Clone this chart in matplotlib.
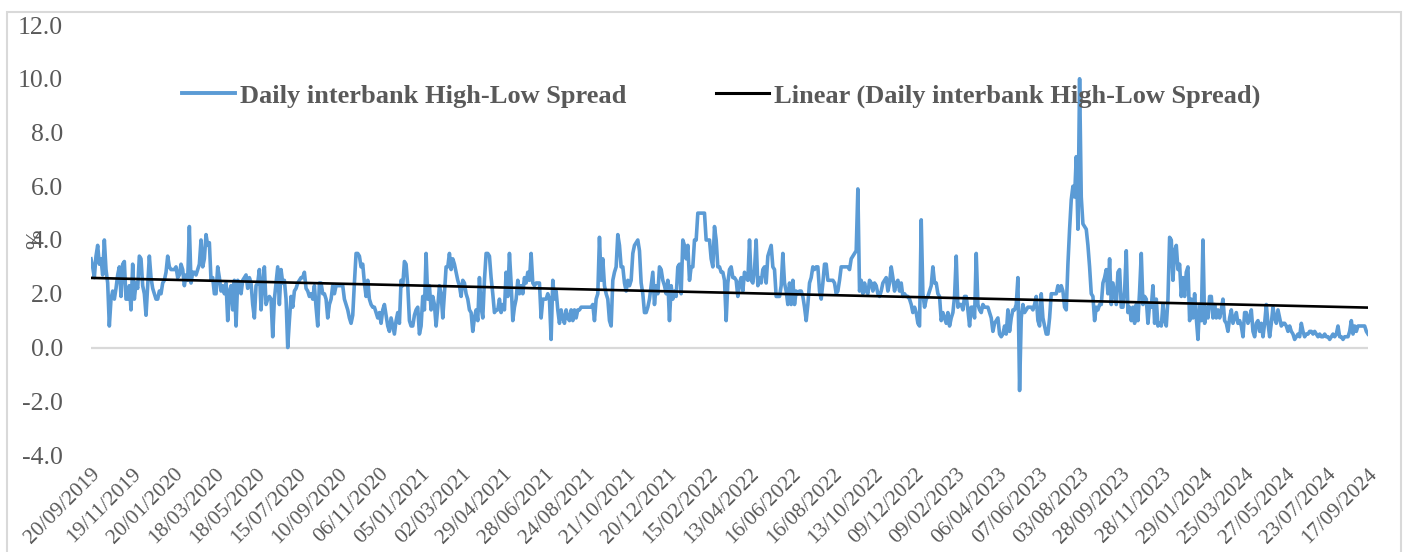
"""Daily interbank High-Low Spread chart"""

import matplotlib
matplotlib.use("Agg")
import matplotlib.pyplot as plt
from matplotlib.lines import Line2D
from matplotlib.patches import Rectangle
import numpy as np

plt.rcParams["font.family"] = ["Liberation Serif", "DejaVu Serif"]
plt.rcParams["axes.unicode_minus"] = False

# ── data (roughly every 1.7 px) ──────────────────────────────────
spread_2019_2020 = [
    3.3, 3.0, 2.6, 3.4, 3.8, 3.1, 3.3, 2.7, 4.0, 2.9,
    2.4, 0.8, 1.8, 2.1, 1.8, 2.2, 2.7, 3.0, 1.9, 3.1,
    3.2, 1.8, 1.8, 2.3, 1.4, 3.1, 1.8, 2.4, 2.2, 3.4,
    3.3, 2.3, 2.0, 1.2, 2.3, 3.4, 2.6, 2.2, 2.0, 1.8,
    1.8, 2.1, 2.0, 2.4, 2.5, 2.8, 3.4, 3.0, 2.9, 2.9,
    2.9, 3.0, 2.6, 2.7, 3.1, 2.9, 2.3, 2.7, 2.5, 4.5,
    2.4, 2.8, 2.8, 2.7, 2.9, 3.1, 4.0, 3.0, 3.3, 4.2,
    3.8, 3.9, 2.5, 2.6, 2.0, 2.0, 3.0, 2.6, 2.1, 2.3,
    2.0, 2.4, 1.0, 2.1, 2.3, 1.4, 2.5, 0.8, 2.5, 2.4,
    2.0, 2.5, 2.6, 2.7, 2.2, 2.6, 2.4, 1.6, 1.1, 2.3,
    2.4, 2.9, 1.4, 2.4, 3.0, 1.6, 1.8, 1.9, 1.8, 0.4,
    1.8, 2.4, 3.0, 1.6, 2.9, 2.4, 2.5, 1.8, 0.0, 1.0,
    1.9, 1.5, 2.1, 2.2, 2.4, 2.5, 2.6, 2.6, 2.8, 2.2,
    2.1, 1.9, 2.0, 1.8, 2.3, 1.5, 0.8, 2.4, 2.4, 2.0,
    2.0, 1.8, 1.1, 1.6, 1.8, 2.3, 2.0, 2.3, 2.3, 2.3,
    2.3, 2.3, 1.8, 1.6, 1.4, 1.1, 0.9, 1.2, 2.4, 3.5,
    3.5, 3.4, 3.0, 3.1, 2.4, 1.9, 2.5, 1.8, 1.6, 1.5,
    1.5, 1.3, 1.1, 1.3, 0.9, 1.4, 1.6, 1.2, 0.8, 0.6,
    1.1, 0.8, 0.5, 1.0, 1.3, 0.9, 2.5, 2.3, 3.2, 3.1,
    2.3, 1.0, 0.8, 0.8, 1.2,
]
spread_2021_2022 = [
    1.4, 1.5, 0.5, 0.8, 1.9, 1.4, 3.5, 1.8, 2.3, 1.4,
    1.9, 1.6, 0.8, 1.5, 2.3, 2.0, 1.1, 2.0, 3.0, 3.0,
    3.5, 2.9, 3.3, 3.1, 2.8, 2.5, 2.3, 1.9, 2.5, 2.4,
    2.0, 1.8, 1.4, 1.3, 0.6, 1.1, 1.4, 1.0, 2.6, 1.5,
    1.1, 2.5, 3.5, 3.5, 3.4, 2.6, 2.0, 1.3, 1.4, 1.4,
    1.8, 1.3, 1.6, 1.4, 2.8, 1.9, 3.5, 2.4, 1.0, 1.5,
    1.8, 2.5, 2.0, 2.3, 2.0, 2.6, 2.4, 2.8, 2.5, 3.5,
    2.4, 2.3, 2.4, 2.4, 2.4, 1.1, 1.8, 1.8, 1.8, 2.0,
    1.8, 0.3, 2.5, 1.8, 2.1, 1.4, 0.9, 1.4, 1.1, 0.9,
    1.4, 1.1, 1.0, 1.4, 1.0, 1.4, 1.1, 1.4, 1.4, 1.5,
    1.5, 1.5, 1.5, 1.5, 1.5, 1.5, 1.6, 1.0, 1.8, 2.0,
    4.1, 2.5, 3.3, 2.3, 2.0, 1.8, 1.0, 0.8, 2.5, 2.8,
    3.0, 4.2, 3.8, 3.0, 3.0, 2.4, 2.1, 2.5, 2.3, 2.5,
    3.5, 3.8, 3.9, 4.0, 3.6, 2.4, 2.0, 1.3, 1.3, 1.5,
    1.8, 2.3, 2.8, 1.6, 2.3, 2.0, 3.0, 2.9, 2.5, 2.3,
    2.0, 2.5, 1.0, 2.3, 1.8, 2.1, 1.9, 3.0, 3.1, 2.0,
    4.0, 3.8, 3.3, 3.8, 2.5, 3.0, 3.0, 4.0, 4.0, 5.0,
    5.0, 5.0, 5.0, 5.0, 4.0, 4.0, 4.0, 3.3, 3.0, 4.5,
    4.0, 3.0, 3.0, 2.8, 2.8, 2.5, 1.0, 2.4, 2.9, 3.0,
    2.6,
]
spread_2022_2023 = [
    2.6, 2.5, 1.9, 2.4, 2.6, 2.1, 2.8, 2.6, 2.5, 4.0,
    2.5, 2.4, 2.9, 4.0, 2.3, 2.6, 2.4, 2.9, 3.0, 2.4,
    3.4, 3.6, 3.8, 3.0, 2.9, 1.9, 1.9, 1.9, 2.3, 3.5,
    2.4, 2.1, 1.6, 2.4, 1.6, 2.5, 1.6, 2.1, 2.0, 2.1,
    2.1, 1.9, 1.5, 1.0, 1.6, 2.4, 2.6, 3.0, 2.9, 3.0,
    3.0, 2.1, 1.8, 2.4, 3.1, 3.1, 2.5, 2.5, 2.5, 2.5,
    2.4, 2.0, 2.1, 2.5, 3.0, 3.0, 3.0, 3.0, 3.0, 2.9,
    3.3, 3.4, 3.5, 3.6, 5.9, 2.1, 2.5, 2.0, 2.4, 2.1,
    2.0, 2.5, 2.4, 2.1, 2.4, 2.3, 2.0, 1.9, 2.1, 2.4,
    2.5, 2.6, 2.1, 2.4, 3.0, 2.6, 2.1, 2.4, 2.5, 2.1,
    2.4, 1.9, 2.0, 1.9, 1.9, 1.8, 1.6, 1.3, 1.5, 1.3,
    0.9, 0.8, 4.75, 2.0, 1.5, 1.8, 1.9, 2.1, 2.3, 3.0,
    2.4, 2.4, 2.0, 1.9, 1.0, 1.3, 1.1, 0.9, 1.3, 0.8,
    1.1, 1.3, 1.9, 3.4, 1.5, 1.6, 1.6, 1.4, 1.9, 1.9,
    1.4, 0.8, 1.5, 1.5, 1.1, 3.5, 1.6, 1.4, 1.3, 1.6,
    1.5, 1.5, 1.5, 1.3, 1.1, 0.6, 0.9, 1.0, 1.1, 0.5,
    0.4, 0.5, 0.8, 0.5, 1.4, 0.6, 1.1, 1.4, 1.4, 1.6,
    2.6, -1.6, 1.1, 1.6, 1.3, 1.4, 1.5, 1.5, 1.5, 1.4,
    1.6, 1.9, 1.0, 0.8, 2.0, 1.1, 0.8, 0.5, 0.5, 1.1,
    2.0, 2.0, 2.0,
]
spread_2023_2024 = [
    2.0, 2.3, 2.1, 2.3, 2.1, 1.5, 1.4, 3.1, 4.4, 5.5,
    6.0, 5.6, 7.1, 4.4, 10.0, 5.6, 4.6, 4.5, 4.4, 3.8,
    3.0, 2.0, 1.9, 1.0, 1.5, 1.4, 1.6, 1.6, 2.4, 2.6,
    2.9, 2.0, 3.3, 1.6, 2.4, 2.0, 1.6, 2.8, 2.9, 1.5,
    1.5, 2.1, 3.6, 1.3, 1.5, 1.0, 1.5, 0.9, 1.6, 1.0,
    2.1, 3.5, 1.6, 1.9, 1.8, 0.9, 1.6, 1.5, 2.3, 0.9,
    1.8, 0.8, 0.9, 0.8, 1.6, 1.0, 0.8, 1.8, 4.1, 4.0,
    2.5, 3.6, 3.8, 2.9, 3.1, 1.9, 2.6, 1.9, 2.8, 3.0,
    1.0, 1.8, 1.1, 2.0, 1.1, 0.3, 1.6, 1.0, 4.0, 0.9,
    1.5, 1.1, 1.9, 1.9, 1.1, 1.6, 1.1, 1.4, 1.1, 1.4,
    1.8, 1.0, 0.9, 0.6, 1.1, 1.4, 0.9, 1.1, 1.3, 0.9,
    1.0, 0.8, 0.4, 1.3, 1.3, 0.9, 1.1, 1.4, 0.6, 0.4,
    0.9, 1.0, 0.6, 0.9, 0.4, 0.9, 1.6, 0.9, 0.4, 0.9,
    1.5, 1.1, 0.9, 1.4, 1.1, 0.8, 0.9, 0.9, 0.8, 0.6,
    0.8, 0.6, 0.5, 0.3, 0.4, 0.5, 0.4, 0.9, 0.6, 0.4,
    0.5, 0.5, 0.6, 0.6, 0.5, 0.6, 0.5, 0.4, 0.5, 0.4,
    0.4, 0.5, 0.4, 0.4, 0.3, 0.4, 0.5, 0.4, 0.5, 0.8,
    0.4, 0.4, 0.3, 0.4, 0.4, 0.4, 0.6, 1.0, 0.5, 0.8,
    0.6, 0.8, 0.8, 0.8, 0.8, 0.8, 0.6, 0.5,
]

date_labels = [
    "20/09/2019", "19/11/2019", "20/01/2020", "18/03/2020", "18/05/2020",
    "15/07/2020", "10/09/2020", "06/11/2020", "05/01/2021", "02/03/2021",
    "29/04/2021", "28/06/2021", "24/08/2021", "21/10/2021", "20/12/2021",
    "15/02/2022", "13/04/2022", "16/06/2022", "16/08/2022", "13/10/2022",
    "09/12/2022", "09/02/2023", "06/04/2023", "07/06/2023", "03/08/2023",
    "28/09/2023", "28/11/2023", "29/01/2024", "25/03/2024", "27/05/2024",
    "23/07/2024", "17/09/2024",
]

SERIES_NAME = "Daily interbank High-Low Spread"
BLUE = "#5B9BD5"
GREY_TXT = "#595959"
GREY_LINE = "#D9D9D9"

spread = np.array(spread_2019_2020 + spread_2021_2022
                  + spread_2022_2023 + spread_2023_2024)
x = np.arange(len(spread))

# linear trend like Excel's "Linear (...)"
slope, intercept = np.polyfit(x, spread, 1)
trend = slope * x + intercept

W, H = 1409, 552
fig = plt.figure(figsize=(W / 100, H / 100), dpi=100)
ax = fig.add_axes([91 / W, 1 - 455 / H, (1368 - 91) / W, (455 - 25) / H])

# chart area border
fig.patches.append(Rectangle((7 / W, -0.1), (1401 - 7) / W, 1.1 - 12 / H,
                             transform=fig.transFigure, fill=False,
                             edgecolor=GREY_LINE, linewidth=1.5))

ax.axhline(0, color=GREY_LINE, linewidth=1.6, zorder=1)
ax.plot(x, spread, color=BLUE, linewidth=2.6, zorder=2,
        solid_joinstyle="round")
ax.plot(x, trend, color="black", linewidth=1.9, zorder=3)

ax.set_xlim(0, len(spread) - 1)
ax.set_ylim(-4, 12)
ax.set_yticks(np.arange(-4, 12.1, 2))
ax.set_yticklabels([f"{v:.1f}" for v in np.arange(-4, 12.1, 2)])
ax.set_xticks(np.linspace(0, len(spread) - 1, len(date_labels)))
ax.set_xticklabels(date_labels, rotation=45, ha="right",
                   rotation_mode="anchor")
ax.tick_params(axis="y", length=0, pad=20, labelsize=18.5,
               labelcolor=GREY_TXT)
ax.tick_params(axis="x", length=0, pad=7, labelsize=15.5,
               labelcolor=GREY_TXT)
for s in ax.spines.values():
    s.set_visible(False)

fig.text(36 / W, 1 - 239 / H, "%", rotation=90, ha="center", va="center",
         fontsize=17, color=GREY_TXT)

handles = [Line2D([], [], color=BLUE, linewidth=2.8),
           Line2D([], [], color="black", linewidth=2.2)]
ax.legend(handles, [SERIES_NAME, f"Linear ({SERIES_NAME})"], ncol=2,
          loc="center left", bbox_to_anchor=((182 - 91) / 1277, (455 - 96) / 430),
          frameon=False, borderpad=0, borderaxespad=0, handlelength=2.0,
          handletextpad=0.2, columnspacing=3.4,
          prop={"weight": "bold", "size": 19})
for t in ax.get_legend().get_texts():
    t.set_color(GREY_TXT)

fig.savefig("out.png", dpi=100)
plt.close(fig)
